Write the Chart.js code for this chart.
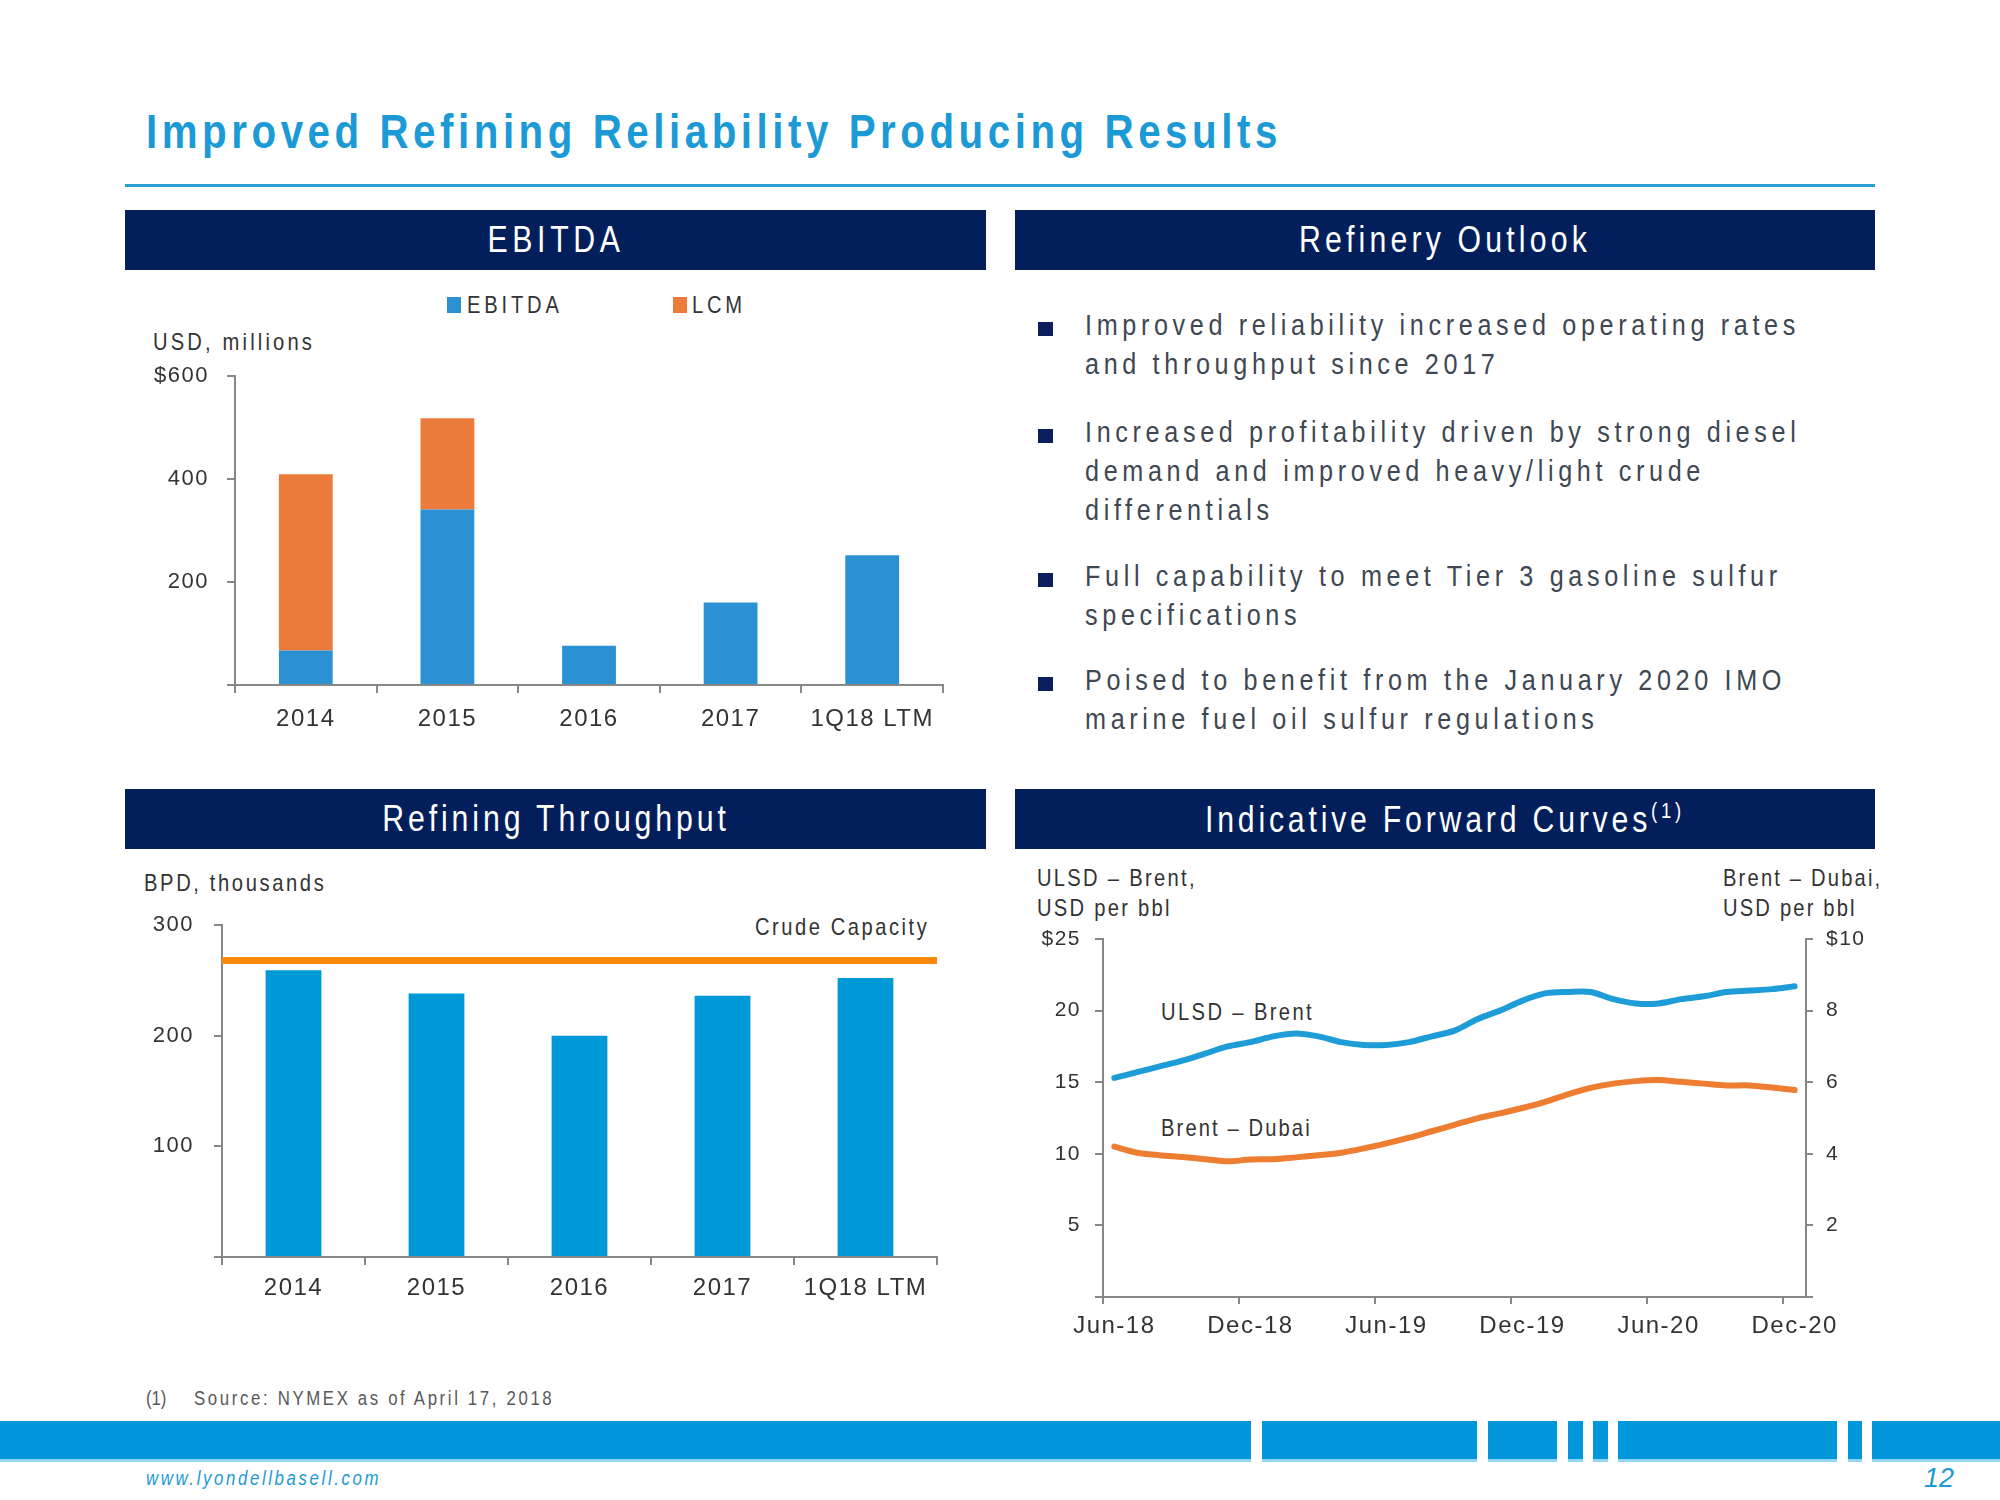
<!DOCTYPE html>
<html>
<head>
<meta charset="utf-8">
<script src="https://cdn.jsdelivr.net/npm/chart.js@4.4.1/dist/chart.umd.min.js"></script>
<style>
  body {
    margin: 0;
    width: 2000px;
    height: 1500px;
    position: relative;
    overflow: hidden;
    background: #fff;
    font-family: "Liberation Sans Narrow", "Arial Narrow", "Liberation Sans", sans-serif;
    color: #333;
  }
  .t { position: absolute; white-space: nowrap; line-height: 1; transform: translateY(-50%); transform-origin: 0 50%; }
  .box { position: absolute; background: #031f5b; color: #fff; }
  .box span { position: absolute; left: 50%; top: 50%; transform: translate(-50%, -50%); white-space: nowrap; line-height: 1; font-size: 36px; }
  .bullet { position: absolute; left: 1038px; width: 15px; height: 14px; background: #0a1f5c; }
  .bl { font-size: 30px; color: #3e4752; left: 1085px; }
  .lab { font-size: 24px; color: #333; }
  .sq { position: absolute; width: 14px; height: 16px; }
  canvas { position: absolute; }
  .gap { position: absolute; top: 1418px; height: 48px; background: #fff; }
</style>
</head>
<body>

<div class="t" id="title" data-w="1136" style="left:146px; top:132px; font-size:48px; font-weight:bold; color:#1b9ad6;">Improved Refining Reliability Producing Results</div>
<div style="position:absolute; left:125px; top:184px; width:1750px; height:3px; background:#2a9fd6;"></div>

<div class="box" style="left:125px; top:210px; width:861px; height:60px;"><span class="hd" data-w="137">EBITDA</span></div>
<div class="box" style="left:1015px; top:210px; width:860px; height:60px;"><span class="hd" data-w="292">Refinery Outlook</span></div>
<div class="box" style="left:125px; top:789px; width:861px; height:60px;"><span class="hd" data-w="348">Refining Throughput</span></div>
<div class="box" style="left:1015px; top:789px; width:860px; height:60px;"><span class="hd" data-w="480">Indicative Forward Curves<sup style="font-size:22px; vertical-align:14px;">(1)</sup></span></div>

<!-- outlook bullets -->
<div class="bullet" style="top:322px;"></div>
<div class="bullet" style="top:429px;"></div>
<div class="bullet" style="top:573px;"></div>
<div class="bullet" style="top:677px;"></div>
<div class="t bl" style="top:325px;">Improved reliability increased operating rates</div>
<div class="t bl" style="top:364px;">and throughput since 2017</div>
<div class="t bl" style="top:432px;">Increased profitability driven by strong diesel</div>
<div class="t bl" style="top:471px;">demand and improved heavy/light crude</div>
<div class="t bl" style="top:510px;">differentials</div>
<div class="t bl" style="top:576px;">Full capability to meet Tier 3 gasoline sulfur</div>
<div class="t bl" style="top:615px;">specifications</div>
<div class="t bl" style="top:680px;">Poised to benefit from the January 2020 IMO</div>
<div class="t bl" style="top:719px;">marine fuel oil sulfur regulations</div>

<!-- EBITDA chart labels -->
<div class="sq" style="left:447px; top:297px; background:#2b91d2;"></div>
<div class="t lab" data-w="96" style="left:467px; top:305px;">EBITDA</div>
<div class="sq" style="left:673px; top:297px; background:#ec7b3b;"></div>
<div class="t lab" data-w="54" style="left:692px; top:305px;">LCM</div>
<div class="t lab" data-w="162" style="left:153px; top:342px;">USD, millions</div>
<canvas id="ebitdaChart" width="861" height="380" style="left:125px; top:360px;"></canvas>

<!-- throughput chart labels -->
<div class="t lab" data-w="182" style="left:144px; top:883px;">BPD, thousands</div>
<div class="t lab" data-w="174" style="left:755px; top:927px;">Crude Capacity</div>
<canvas id="throughputChart" width="861" height="400" style="left:125px; top:900px;"></canvas>

<!-- forward curves labels -->
<div class="t lab" data-w="160" style="left:1037px; top:878px;">ULSD – Brent,</div>
<div class="t lab" data-w="135" style="left:1037px; top:908px;">USD per bbl</div>
<div class="t lab" data-w="159" style="left:1723px; top:878px;">Brent – Dubai,</div>
<div class="t lab" data-w="134" style="left:1723px; top:908px;">USD per bbl</div>
<div class="t lab" data-w="153" style="left:1161px; top:1012px;">ULSD – Brent</div>
<div class="t lab" data-w="151" style="left:1161px; top:1128px;">Brent – Dubai</div>
<canvas id="forwardChart" width="860" height="425" style="left:1015px; top:920px;"></canvas>

<!-- footer -->
<div class="t" data-w="20" style="left:146px; top:1398px; font-size:20px; color:#595959;">(1)</div>
<div class="t" data-w="360" style="left:194px; top:1398px; font-size:20px; color:#595959;">Source: NYMEX as of April 17, 2018</div>
<div style="position:absolute; left:0; top:1421px; width:2000px; height:38px; background:#0098da; border-bottom:3px solid #8fd4f3;"></div>
<div class="gap" style="left:1251px; width:11px;"></div>
<div class="gap" style="left:1477px; width:11px;"></div>
<div class="gap" style="left:1557px; width:11px;"></div>
<div class="gap" style="left:1583px; width:10px;"></div>
<div class="gap" style="left:1608px; width:10px;"></div>
<div class="gap" style="left:1837px; width:11px;"></div>
<div class="gap" style="left:1862px; width:10px;"></div>
<div class="t" data-w="235" style="left:146px; top:1478px; font-size:20px; font-style:italic; color:#1b9ad6;">www.lyondellbasell.com</div>
<div class="t" style="left:1924px; top:1478px; font-size:27px; font-style:italic; color:#1b9ad6;">12</div>

<script>
// EBITDA, USD millions
const years = ["2014", "2015", "2016", "2017", "1Q18 LTM"];
const ebitda = [67, 341, 76, 160, 252];
const lcm = [342, 177, 0, 0, 0];
const ebitdaTickLabels = ["", "200", "400", "$600"];

// Refining throughput, BPD thousands
const throughput = [259, 238, 200, 236, 252];
const crudeCapacity = [268, 268, 268, 268, 268];
const throughputTickLabels = ["", "100", "200", "300"];

// Indicative forward curves, USD per bbl
const months = [
    "Jun-18", "Jul-18", "Aug-18", "Sep-18", "Oct-18", "Nov-18", "Dec-18",
    "Jan-19", "Feb-19", "Mar-19", "Apr-19", "May-19", "Jun-19",
    "Jul-19", "Aug-19", "Sep-19", "Oct-19", "Nov-19", "Dec-19",
    "Jan-20", "Feb-20", "Mar-20", "Apr-20", "May-20", "Jun-20",
    "Jul-20", "Aug-20", "Sep-20", "Oct-20", "Nov-20", "Dec-20"
];
const ulsdBrent = [
    15.3, 15.7, 16.1, 16.5, 17.0, 17.5, 17.8,
    18.2, 18.4, 18.2, 17.8, 17.6, 17.6,
    17.8, 18.2, 18.6, 19.4, 20.0, 20.7,
    21.2, 21.3, 21.3, 20.8, 20.5, 20.5,
    20.8, 21.0, 21.3, 21.4, 21.5, 21.7
];
const brentDubai = [
    4.20, 4.03, 3.96, 3.91, 3.85, 3.79, 3.84,
    3.85, 3.90, 3.96, 4.03, 4.15, 4.29,
    4.45, 4.63, 4.81, 4.99, 5.13, 5.28,
    5.45, 5.66, 5.84, 5.96, 6.03, 6.06,
    6.01, 5.96, 5.91, 5.91, 5.85, 5.78
];
const leftTickLabels = ["", "5", "10", "15", "20", "$25"];
const rightTickLabels = ["", "2", "4", "6", "8", "$10"];

/* ==========================
   SLIDE TEXT: narrow glyphs, spaced letters
========================== */

const squeeze = 0.84;

function fitWidth(el, width) {
    const base = el.classList.contains("hd") ? "translate(-50%, -50%)" : "translateY(-50%)";
    el.style.letterSpacing = "0px";
    const natural = el.offsetWidth;
    const n = el.textContent.length;
    const ls = (width / squeeze - natural) / n;
    el.style.letterSpacing = ls + "px";
    el.style.transform = base + " scaleX(" + squeeze + ")";
    return ls;
}

document.querySelectorAll("[data-w]").forEach(el => fitWidth(el, +el.dataset.w));

const bullets = document.querySelectorAll(".bl");
const bulletSpacing = fitWidth(bullets[0], 715);
bullets.forEach(b => {
    b.style.letterSpacing = bulletSpacing + "px";
    b.style.transform = "translateY(-50%) scaleX(" + squeeze + ")";
});

/* ==========================
   SHARED AXIS STYLE
========================== */

const axisGray = "#878787";
const textGray = "#333333";

Chart.defaults.font.family = '"Liberation Sans Narrow", "Arial Narrow", "Liberation Sans", sans-serif';
Chart.defaults.color = textGray;

Chart.register({
    id: "spacing",
    beforeDraw(chart) {
        chart.ctx.letterSpacing = "1.5px";
    }
});

function yAxis(max, step, labels, width, pad) {
    return {
        min: 0,
        max: max,
        ticks: {
            stepSize: step,
            padding: pad,
            font: { size: 22 },
            callback: (v, i) => labels[i]
        },
        grid: {
            drawOnChartArea: false,
            tickLength: 8,
            color: axisGray,
            lineWidth: 2
        },
        border: { color: axisGray, width: 2 },
        afterFit: s => {
            s.width = width;
            s.paddingTop = 0;
            s.paddingBottom = 0;
        }
    };
}

function xAxis(height, pad) {
    return {
        offset: true,
        grid: {
            offset: true,
            drawOnChartArea: false,
            tickLength: 8,
            color: axisGray,
            lineWidth: 2
        },
        border: { color: axisGray, width: 2 },
        ticks: {
            padding: pad,
            maxRotation: 0,
            autoSkip: false,
            font: { size: 24 }
        },
        afterFit: s => {
            s.height = height;
            s.paddingLeft = 0;
            s.paddingRight = 0;
        }
    };
}

/* ==========================
   EBITDA CHART
========================== */

const ebitdaX = xAxis(55, 12);
ebitdaX.stacked = true;
const ebitdaY = yAxis(600, 200, ebitdaTickLabels, 110, 18);
ebitdaY.stacked = true;

new Chart(document.getElementById("ebitdaChart"), {
    type: "bar",
    data: {
        labels: years,
        datasets: [
            { label: "EBITDA", data: ebitda, backgroundColor: "#2b91d2" },
            { label: "LCM", data: lcm, backgroundColor: "#ec7b3b" }
        ]
    },
    options: {
        responsive: false,
        animation: false,
        layout: { padding: { left: 0, right: 43, top: 16, bottom: 0 } },
        plugins: { legend: { display: false }, tooltip: { enabled: false } },
        datasets: { bar: { barPercentage: 0.38, categoryPercentage: 1 } },
        scales: { x: ebitdaX, y: ebitdaY }
    }
});

/* ==========================
   THROUGHPUT CHART
========================== */

new Chart(document.getElementById("throughputChart"), {
    type: "bar",
    data: {
        labels: years,
        datasets: [
            {
                type: "line",
                label: "Crude Capacity",
                data: crudeCapacity,
                xAxisID: "x2",
                borderColor: "#fb8a0c",
                borderWidth: 7,
                pointRadius: 0
            },
            {
                label: "Throughput",
                data: throughput,
                backgroundColor: "#0099d8",
                grouped: false,
                barPercentage: 0.39,
                categoryPercentage: 1
            }
        ]
    },
    options: {
        responsive: false,
        animation: false,
        layout: { padding: { left: 0, right: 49, top: 25, bottom: 0 } },
        plugins: { legend: { display: false }, tooltip: { enabled: false } },
        scales: {
            x: xAxis(43, 9),
            x2: { type: "category", labels: years, offset: false, display: false },
            y: yAxis(300, 100, throughputTickLabels, 97, 20)
        }
    }
});

/* ==========================
   FORWARD CURVES CHART
========================== */

const fwdX = xAxis(48, 8);
fwdX.grid.tickLength = 7;
fwdX.grid.color = c => (c.index % 6 === 0 ? axisGray : "rgba(0,0,0,0)");
fwdX.ticks.callback = (v, i) => (i % 6 === 0 ? months[i] : "");

const fwdLeft = yAxis(25, 5, leftTickLabels, 88, 14);
fwdLeft.ticks.font = { size: 21 };
const fwdRight = yAxis(10, 2, rightTickLabels, 69, 13);
fwdRight.position = "right";
fwdRight.ticks.font = { size: 21 };
fwdRight.grid.tickLength = 7;

new Chart(document.getElementById("forwardChart"), {
    type: "line",
    data: {
        labels: months,
        datasets: [
            {
                label: "ULSD – Brent",
                data: ulsdBrent,
                yAxisID: "y",
                borderColor: "#1e9cd8",
                borderWidth: 6,
                pointRadius: 0,
                tension: 0.3,
                borderCapStyle: "round"
            },
            {
                label: "Brent – Dubai",
                data: brentDubai,
                yAxisID: "y1",
                borderColor: "#ed7d31",
                borderWidth: 6,
                pointRadius: 0,
                tension: 0.3,
                borderCapStyle: "round"
            }
        ]
    },
    options: {
        responsive: false,
        animation: false,
        layout: { padding: { left: 0, right: 0, top: 19, bottom: 0 } },
        plugins: { legend: { display: false }, tooltip: { enabled: false } },
        scales: { x: fwdX, y: fwdLeft, y1: fwdRight }
    }
});
</script>
</body>
</html>
